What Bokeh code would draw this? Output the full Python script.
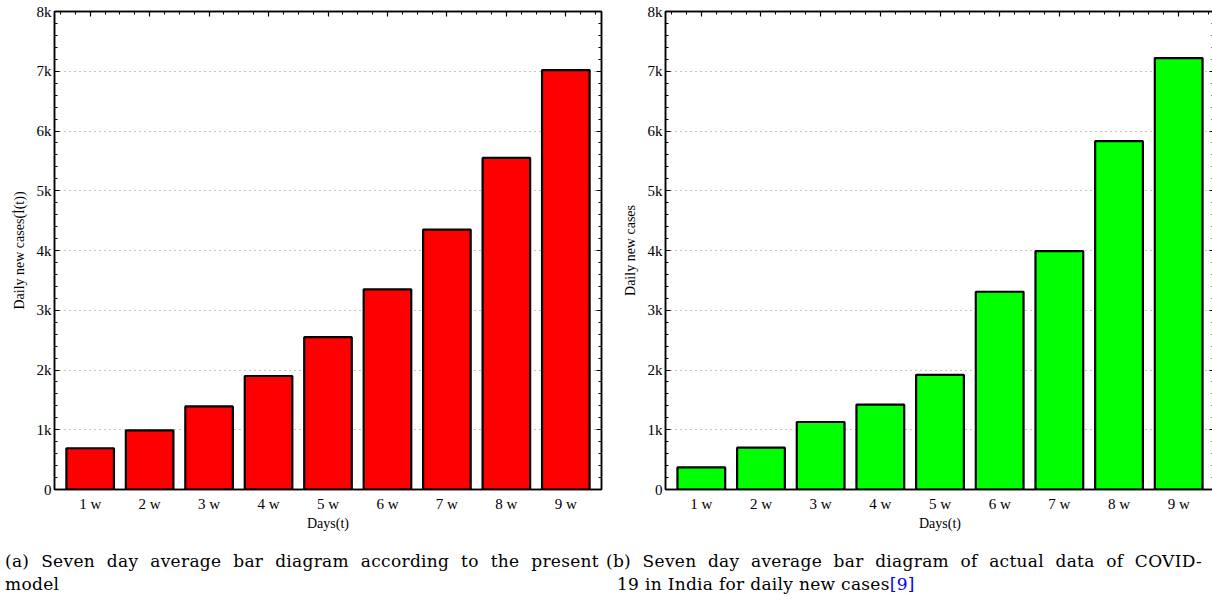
from bokeh.plotting import figure
from bokeh.models import ColumnDataSource, FixedTicker, LinearAxis, Range1d, Div
from bokeh.layouts import row, column
from bokeh.embed import file_html
from bokeh.resources import INLINE

# ---- data ----
weeks = ["1 w", "2 w", "3 w", "4 w", "5 w", "6 w", "7 w", "8 w", "9 w"]
week_pos = [1, 2, 3, 4, 5, 6, 7, 8, 9]
model_cases = [690, 990, 1390, 1900, 2550, 3350, 4350, 5550, 7020]
actual_cases = [370, 700, 1130, 1420, 1920, 3310, 3990, 5830, 7220]
y_ticks = [0, 1000, 2000, 3000, 4000, 5000, 6000, 7000, 8000]
y_tick_labels = ["0", "1k", "2k", "3k", "4k", "5k", "6k", "7k", "8k"]
x_label = "Days(t)"
y_label_a = "Daily new cases(İ(t))"
y_label_b = "Daily new cases"
caption_a1 = "(a) Seven day average bar diagram according to the present"
caption_a2 = "model"
caption_b1 = "(b) Seven day average bar diagram of actual data of COVID-"
caption_b2 = "19 in India for daily new cases"
caption_b_ref = "[9]"

FONT = "Liberation Serif"
y_minor = [v for v in range(0, 8001, 200) if v % 1000 != 0]
x_minor = [0.5 + 0.25 * i for i in range(37) if (0.5 + 0.25 * i) % 1 != 0]


def style_axis(ax):
    ax.axis_line_color = "black"
    ax.axis_line_width = 1.5
    ax.major_tick_line_color = "black"
    ax.minor_tick_line_color = "black"
    ax.major_tick_line_width = 1.2
    ax.minor_tick_line_width = 1
    ax.major_tick_out = 0
    ax.minor_tick_out = 0
    ax.major_tick_in = 5
    ax.minor_tick_in = 3
    ax.major_label_text_font = FONT
    ax.major_label_text_font_size = "15px"
    ax.major_label_text_color = "black"
    ax.axis_label_text_font = FONT
    ax.axis_label_text_font_size = "14px"
    ax.axis_label_text_font_style = "normal"
    ax.axis_label_text_color = "black"


def hide_labels(ax, ticks):
    ax.major_label_overrides = {t: "" for t in ticks}
    ax.major_label_text_font_size = "1px"
    ax.major_label_standoff = 0


def make_panel(values, color, ylabel, left_border, frame_w, right_border):
    src = ColumnDataSource(dict(x=week_pos, top=values))
    p = figure(frame_width=frame_w, frame_height=478,
               x_range=Range1d(0.4, 9.6), y_range=Range1d(0, 8000),
               output_backend="svg", toolbar_location=None,
               min_border_left=left_border, min_border_right=right_border,
               min_border_top=11, min_border_bottom=44)
    p.background_fill_color = "white"
    p.border_fill_color = "white"
    p.outline_line_color = "black"
    p.outline_line_width = 1.5

    p.vbar(x="x", top="top", width=0.8, source=src, fill_color=color,
           line_color="black", line_width=2.2)

    # bottom axis
    xa = p.xaxis[0]
    style_axis(xa)
    xa.ticker = FixedTicker(ticks=week_pos)
    xa.major_label_overrides = {w: lab for w, lab in zip(week_pos, weeks)}
    xa.major_tick_in = 0
    xa.minor_tick_in = 0
    xa.major_label_standoff = 6
    xa.axis_label = x_label
    xa.axis_label_standoff = 1

    # left axis
    ya = p.yaxis[0]
    style_axis(ya)
    ya.ticker = FixedTicker(ticks=y_ticks, minor_ticks=y_minor)
    ya.major_label_overrides = {v: lab for v, lab in zip(y_ticks, y_tick_labels)}
    ya.major_label_standoff = 3
    ya.axis_label = ylabel
    ya.axis_label_standoff = 7

    # mirrored axes
    ra = LinearAxis(ticker=FixedTicker(ticks=y_ticks, minor_ticks=y_minor))
    style_axis(ra)
    hide_labels(ra, y_ticks)
    p.add_layout(ra, "right")
    ta = LinearAxis(ticker=FixedTicker(ticks=week_pos, minor_ticks=x_minor))
    style_axis(ta)
    hide_labels(ta, week_pos)
    p.add_layout(ta, "above")

    p.xgrid.visible = False
    p.ygrid.ticker = FixedTicker(ticks=y_ticks[1:-1])
    p.ygrid.grid_line_color = "#888888"
    p.ygrid.grid_line_dash = "1 4"
    p.ygrid.grid_line_width = 1
    return p


p1 = make_panel(model_cases, "#ff0000", y_label_a, 54, 547, 8)
p2 = make_panel(actual_cases, "#00ff00", y_label_b, 42, 549, 2)

cap_style = ("font-family:'DejaVu Serif';font-size:17px;line-height:23px;"
             "letter-spacing:0.3px;color:black;")
d1 = Div(text=(f"<div style=\"{cap_style}width:594px;\">"
               f"<div style=\"text-align:justify;text-align-last:justify;\">{caption_a1}</div>"
               f"<div>{caption_a2}</div></div>"),
         width=609, styles={"margin-top": "17px"})
d2 = Div(text=(f"<div style=\"{cap_style}width:596px;\">"
               f"<div style=\"text-align:justify;text-align-last:justify;\">{caption_b1}</div>"
               f"<div style=\"padding-left:11px;\">{caption_b2}"
               f"<span style=\"color:#0000ff;\">{caption_b_ref}</span></div></div>"),
         width=596, styles={"margin-top": "17px", "margin-left": "-13px"})

layout = row(column(p1, d1), column(p2, d2))
open("out.html", "w").write(file_html(layout, INLINE))
